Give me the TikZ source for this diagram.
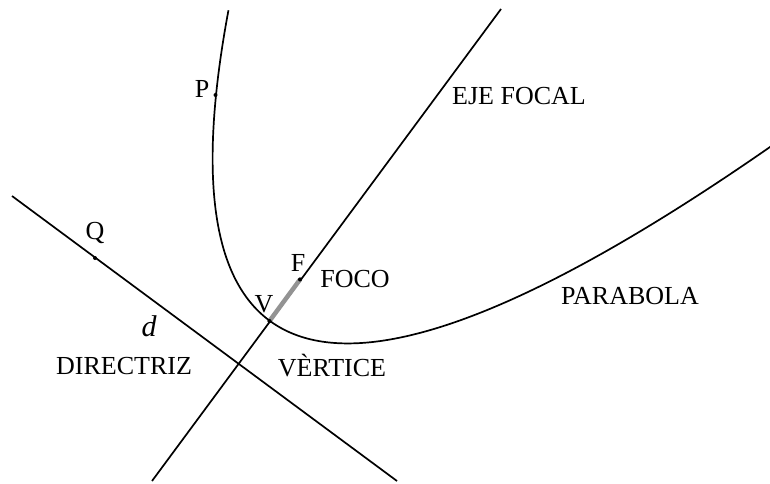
\documentclass[tikz,border=0pt]{standalone}
\usepackage{fontspec}
\setmainfont{Liberation Serif}
\begin{document}
\begin{tikzpicture}[x=1pt,y=-1pt,
  curve/.style={line width=1.7pt,black},
  seg/.style={line width=4.5pt,gray!85},
  pt/.style={circle,fill=black,inner sep=0pt,minimum size=4pt},
  lbl/.style={font=\fontsize{26}{30}\selectfont,inner sep=0pt}]
\useasboundingbox (0,0) rectangle (770,483);
% named points
\coordinate (A1) at (152,481);
\coordinate (A2) at (501,9);
\coordinate (D1) at (12,196);
\coordinate (D2) at (397,481);
\node[pt] (V) at (269.5,321) {};
\node[pt] (F) at (300,279.5) {};
\node[pt] (P) at (215.5,95) {};
\node[pt] (Q) at (95,258) {};
% lines
\draw[curve] (A1) -- (A2);
\draw[curve] (D1) -- (D2);
\draw[seg] (V.center) -- (F.center);
\node[pt] at (V) {};
\node[pt] at (F) {};
% parabola
\draw[curve,line join=round] plot[domain=-2.17:3.02,samples=200,smooth]
  ({270 + \x*80.7 + \x*\x*48.08*0.59},{321 + \x*59 - \x*\x*48.08*0.807});
% labels
\node[lbl] (lP) at (202,89) {P};
\node[lbl] (lQ) at (95,233) {Q};
\node[lbl] (lF) at (298,263) {F};
\node[lbl] (lV) at (264,304) {V};
\node[lbl] (lFOCO) at (355,279) {FOCO};
\node[lbl] (lEJE) at (519,96) {EJE FOCAL};
\node[lbl] (lPAR) at (630,296) {PARABOLA};
\node[lbl] (lDIR) at (124,366) {DIRECTRIZ};
\node[lbl] (lVER) at (332,366) {VÈRTICE};
\node[lbl,font=\fontsize{30}{34}\selectfont\itshape] (ld) at (149,326) {d};
\end{tikzpicture}
\end{document}
